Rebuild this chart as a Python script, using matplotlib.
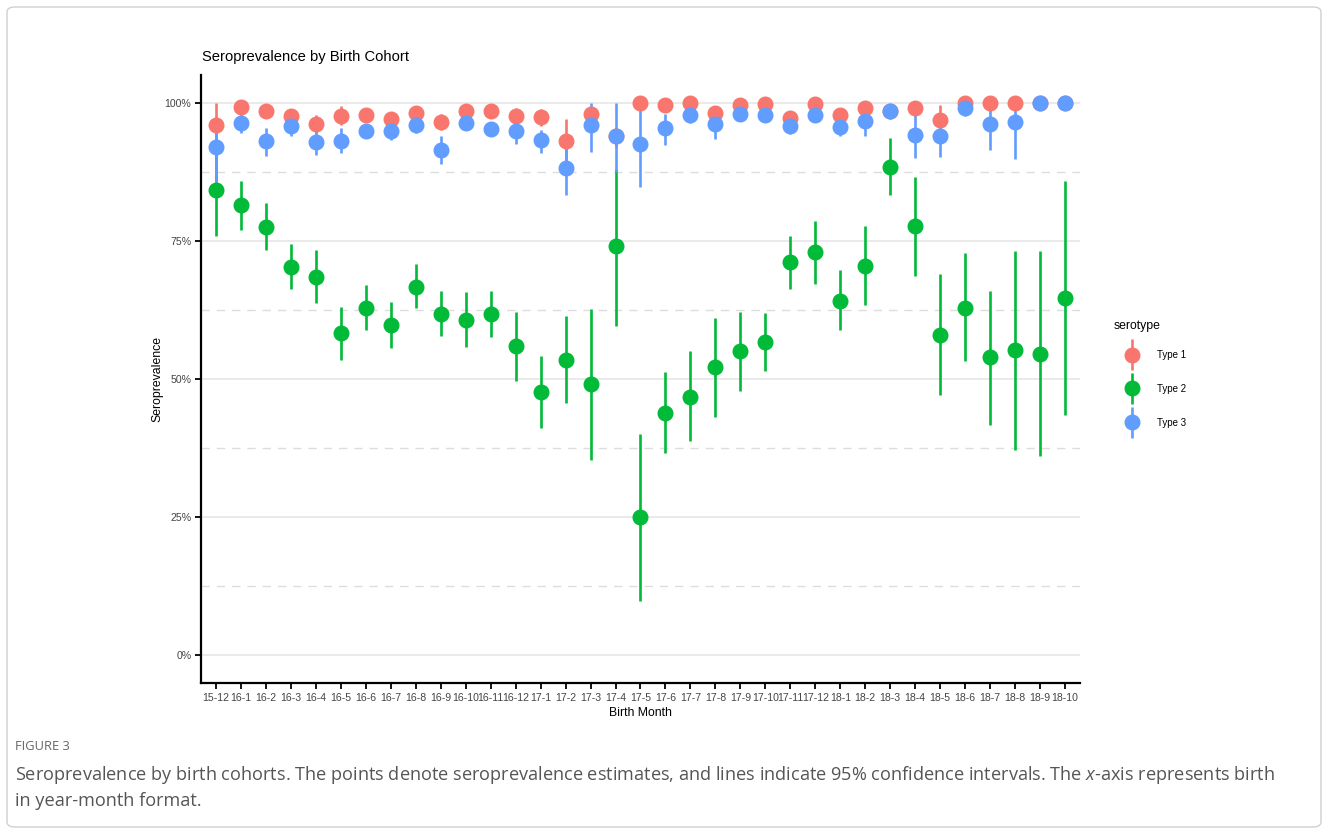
import matplotlib
matplotlib.use("Agg")
import matplotlib.pyplot as plt
from matplotlib.container import ErrorbarContainer
from matplotlib.legend_handler import HandlerErrorbar
from matplotlib.patches import FancyBboxPatch
import numpy as np

plt.rcParams["font.family"] = ["Liberation Sans", "DejaVu Sans"]
plt.rcParams["mathtext.fontset"] = "custom"
plt.rcParams["mathtext.it"] = "Open Sans:italic"
plt.rcParams["mathtext.rm"] = "Open Sans"

months = ["15-12", "16-1", "16-2", "16-3", "16-4", "16-5", "16-6", "16-7", "16-8",
          "16-9", "16-10", "16-11", "16-12", "17-1", "17-2", "17-3", "17-4", "17-5",
          "17-6", "17-7", "17-8", "17-9", "17-10", "17-11", "17-12", "18-1", "18-2",
          "18-3", "18-4", "18-5", "18-6", "18-7", "18-8", "18-9", "18-10"]

# seroprevalence (%) with 95% CI bounds
type1_est = [96.0, 99.3, 98.4, 97.5, 96.1, 97.5, 97.8, 97.1, 98.2, 96.5, 98.5, 98.4,
             97.6, 97.4, 93.0, 97.9, 93.9, 100, 99.5, 100, 98.1, 99.5, 99.7, 97.2,
             99.8, 97.7, 99.0, 98.4, 99.1, 96.9, 100, 100, 100, 100, 100]
type1_lo = [91.5, 98.0, 97.2, 96.0, 94.5, 96.0, 96.5, 95.8, 97.0, 95.0, 97.3, 97.2,
            96.2, 95.8, 88.5, 96.5, 92.0, 100, 98.5, 100, 96.5, 98.5, 98.8, 95.5,
            99.0, 96.0, 97.8, 97.5, 97.8, 94.5, 100, 100, 100, 100, 100]
type1_hi = [100, 100, 99.3, 98.6, 97.8, 99.4, 98.8, 98.3, 99.2, 98.0, 99.4, 99.3,
            99.0, 98.8, 97.1, 99.0, 95.5, 100, 100, 100, 99.4, 100, 100, 98.5,
            100, 99.0, 99.8, 99.5, 99.8, 99.6, 100, 100, 100, 100, 100]

type2_est = [84.2, 81.4, 77.5, 70.3, 68.5, 58.3, 62.9, 59.8, 66.7, 61.8, 60.7, 61.7,
             56.0, 47.7, 53.5, 49.1, 74.0, 25.0, 43.8, 46.8, 52.1, 55.0, 56.7, 71.1,
             72.9, 64.2, 70.5, 88.3, 77.7, 58.0, 62.9, 53.9, 55.2, 54.6, 64.7]
type2_lo = [75.9, 77.0, 73.4, 66.3, 63.7, 53.5, 58.8, 55.6, 62.8, 57.7, 55.7, 57.6,
            49.7, 41.2, 45.6, 35.4, 59.5, 9.9, 36.6, 38.7, 43.2, 47.9, 51.5, 66.3,
            67.2, 58.8, 63.4, 83.2, 68.7, 47.1, 53.2, 41.7, 37.2, 36.0, 43.5]
type2_hi = [91.5, 85.9, 81.9, 74.4, 73.4, 63.0, 67.0, 64.0, 70.8, 66.0, 65.8, 65.9,
            62.2, 54.1, 61.4, 62.6, 88.0, 40.0, 51.2, 55.0, 61.0, 62.1, 62.0, 75.9,
            78.6, 69.7, 77.7, 93.6, 86.6, 69.0, 72.8, 66.0, 73.2, 73.2, 85.9]

type3_est = [92.0, 96.4, 93.0, 95.7, 92.8, 93.1, 94.9, 94.9, 95.9, 91.4, 96.4, 95.3,
             94.8, 93.2, 88.2, 96.0, 93.9, 92.5, 95.4, 97.8, 96.1, 97.9, 97.8, 95.8,
             97.8, 95.6, 96.6, 98.4, 94.2, 93.9, 99.1, 96.1, 96.5, 100, 100]
type3_lo = [85.5, 94.5, 90.4, 93.9, 90.5, 90.8, 93.6, 93.3, 94.5, 88.9, 95.0, 93.9,
            92.5, 90.8, 83.3, 91.0, 87.5, 84.8, 92.3, 96.4, 93.4, 96.8, 96.7, 94.3,
            96.7, 94.0, 93.9, 97.0, 89.9, 90.2, 97.5, 91.4, 89.8, 100, 100]
type3_hi = [97.0, 98.0, 95.5, 97.0, 95.0, 95.5, 96.0, 96.0, 97.0, 93.9, 97.5, 96.5,
            96.5, 95.0, 93.0, 100, 100, 100, 98.0, 98.8, 97.8, 98.8, 98.8, 97.0,
            98.8, 96.8, 97.8, 99.5, 98.5, 97.0, 100, 99.0, 99.0, 100, 100]

series = [
    ("Type 1", "#F8766D", type1_est, type1_lo, type1_hi),
    ("Type 2", "#00BA38", type2_est, type2_lo, type2_hi),
    ("Type 3", "#619CFF", type3_est, type3_lo, type3_hi),
]

W, H = 1328, 834
fig = plt.figure(figsize=(W / 100, H / 100), dpi=100)
ax = fig.add_axes([201 / W, 1 - 683 / H, (1080 - 201) / W, (683 - 75) / H])

x = np.arange(len(months))
for k, (name, col, est, lo, hi) in enumerate(series):
    est = np.array(est)
    yerr = [est - np.array(lo), np.array(hi) - est]
    cont = ax.errorbar(x, est, yerr=yerr, fmt="o", color=col, ecolor=col,
                       markersize=10.5, elinewidth=1.9, capsize=0, label=name)
    # all intervals sit under all points, later series on top
    cont[0].set_zorder(10 + k)
    for lc in cont[2]:
        lc.set_zorder(5 + k)

ax.set_xlim(-0.6, len(months) - 0.4)
ax.set_ylim(-5, 105)
ax.set_xticks(x)
ax.set_xticklabels(months)
ax.set_yticks([0, 25, 50, 75, 100])
ax.set_yticklabels(["0%", "25%", "50%", "75%", "100%"])
ax.set_yticks([12.5, 37.5, 62.5, 87.5], minor=True)

ax.grid(axis="y", which="major", color="#e6e6e6", linewidth=1.2, zorder=0)
ax.grid(axis="y", which="minor", color="#dddddd", linewidth=1.0,
        linestyle=(0, (6, 5)), zorder=0)
ax.set_axisbelow(True)

for side in ["top", "right"]:
    ax.spines[side].set_visible(False)
for side in ["left", "bottom"]:
    ax.spines[side].set_linewidth(1.6)
    ax.spines[side].set_color("black")

ax.tick_params(axis="both", which="major", length=4, width=1.3, color="black",
               labelsize=7.6, labelcolor="#444444", pad=3)
ax.tick_params(axis="y", which="minor", length=0)

ax.set_xlabel("Birth Month", fontsize=8.8, labelpad=3)
ax.set_ylabel("Seroprevalence", fontsize=8.8, labelpad=1)

fig.text(202 / W, 1 - 57 / H, "Seroprevalence by Birth Cohort", fontsize=10.6,
         ha="left", va="center")

# legend keys, title placed on its own
fig.text(1114 / W, 1 - 326 / H, "serotype", fontsize=8.8, ha="left", va="center")
leg = ax.legend(loc="upper left",
                bbox_to_anchor=(1113 / W, 1 - 350 / H), bbox_transform=fig.transFigure,
                frameon=False, fontsize=7,
                handlelength=3.9, handletextpad=0.6, labelspacing=2.45,
                borderaxespad=0, borderpad=0,
                handler_map={ErrorbarContainer: HandlerErrorbar(yerr_size=1.6)})

# page frame and caption
frame = FancyBboxPatch((7 / W, 7 / H), (W - 14) / W, (H - 14) / H,
                       boxstyle="round,pad=0,rounding_size=0.006",
                       transform=fig.transFigure, facecolor="none",
                       edgecolor="#cfcfcf", linewidth=1.0)
fig.patches.append(frame)

fig.text(15 / W, 1 - 747 / H, "FIGURE 3", fontsize=9.3, color="#666666",
         family="Open Sans", ha="left", va="center")
fig.text(15 / W, 1 - 775 / H,
         "Seroprevalence by birth cohorts. The points denote seroprevalence estimates, "
         "and lines indicate 95% confidence intervals. The $x$-axis represents birth",
         fontsize=13.1, color="#555555", family="Open Sans", ha="left", va="center")
fig.text(15 / W, 1 - 801 / H, "in year-month format.", fontsize=13.1, color="#555555",
         family="Open Sans", ha="left", va="center")

fig.savefig("out.png", dpi=100)
